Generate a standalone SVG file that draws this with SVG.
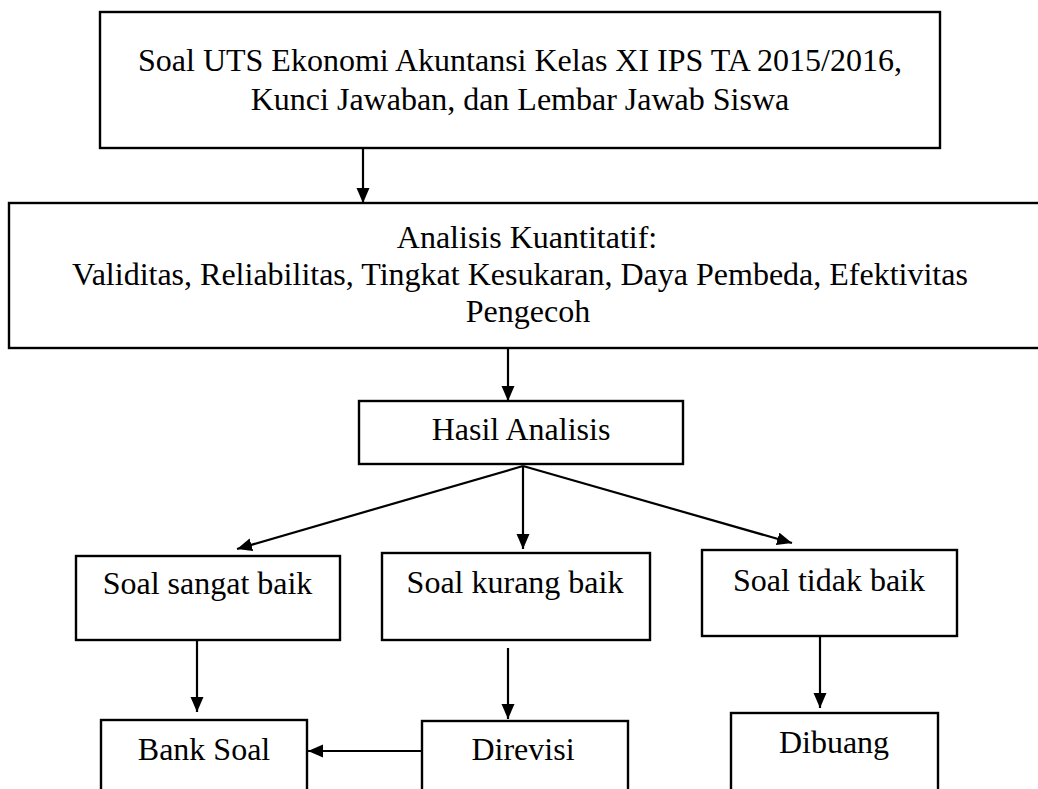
<svg xmlns="http://www.w3.org/2000/svg" width="1038" height="789" viewBox="0 0 1038 789">
<style>
.box{fill:#fff;stroke:#000;stroke-width:2.4}
.t{font-family:"Liberation Serif","Times New Roman",serif;font-size:32px;fill:#000;text-anchor:middle}
.c{fill:none;stroke:#000;stroke-width:2.2}
</style>
<defs>
<marker id="ah" markerUnits="userSpaceOnUse" markerWidth="16" markerHeight="14" refX="15" refY="6.5" orient="auto">
<path d="M0,0 L15,6.5 L0,13 z" fill="#000"/>
</marker>
</defs>
<rect width="1038" height="789" fill="#fff"/>
<g id="connectors">
<line class="c" x1="363" y1="148" x2="363" y2="203" marker-end="url(#ah)"/>
<line class="c" x1="508" y1="348" x2="508" y2="401" marker-end="url(#ah)"/>
<line class="c" x1="523" y1="466" x2="237" y2="549" marker-end="url(#ah)"/>
<line class="c" x1="523" y1="466" x2="523" y2="549" marker-end="url(#ah)"/>
<line class="c" x1="523" y1="466" x2="792" y2="543" marker-end="url(#ah)"/>
<line class="c" x1="197" y1="640" x2="197" y2="712" marker-end="url(#ah)"/>
<line class="c" x1="508" y1="648" x2="508" y2="719" marker-end="url(#ah)"/>
<line class="c" x1="820" y1="636" x2="820" y2="708" marker-end="url(#ah)"/>
<line class="c" x1="422" y1="751" x2="308" y2="751" marker-end="url(#ah)"/>
</g>
<g id="top">
<rect class="box" x="100" y="12" width="840" height="136"/>
<text class="t" x="520" y="71">Soal UTS Ekonomi Akuntansi Kelas XI IPS TA 2015/2016,</text>
<text class="t" x="520" y="110">Kunci Jawaban, dan Lembar Jawab Siswa</text>
</g>
<g id="analisis">
<rect class="box" x="9" y="203" width="1034" height="145"/>
<text class="t" x="527" y="248">Analisis Kuantitatif:</text>
<text class="t" x="520" y="285">Validitas, Reliabilitas, Tingkat Kesukaran, Daya Pembeda, Efektivitas</text>
<text class="t" x="528" y="322">Pengecoh</text>
</g>
<g id="hasil">
<rect class="box" x="359" y="401" width="324" height="63"/>
<text class="t" x="521" y="440">Hasil Analisis</text>
</g>
<g id="sangat-baik">
<rect class="box" x="76" y="556" width="264" height="84"/>
<text class="t" x="207.5" y="594">Soal sangat baik</text>
</g>
<g id="kurang-baik">
<rect class="box" x="382" y="553" width="268" height="87"/>
<text class="t" x="515" y="593">Soal kurang baik</text>
</g>
<g id="tidak-baik">
<rect class="box" x="702" y="550" width="255" height="86"/>
<text class="t" x="829" y="591">Soal tidak baik</text>
</g>
<g id="bank-soal">
<rect class="box" x="101" y="720" width="206" height="90"/>
<text class="t" x="204" y="760">Bank Soal</text>
</g>
<g id="direvisi">
<rect class="box" x="422" y="721" width="206" height="90"/>
<text class="t" x="523" y="760">Direvisi</text>
</g>
<g id="dibuang">
<rect class="box" x="731" y="713" width="207" height="90"/>
<text class="t" x="834" y="753">Dibuang</text>
</g>
</svg>
